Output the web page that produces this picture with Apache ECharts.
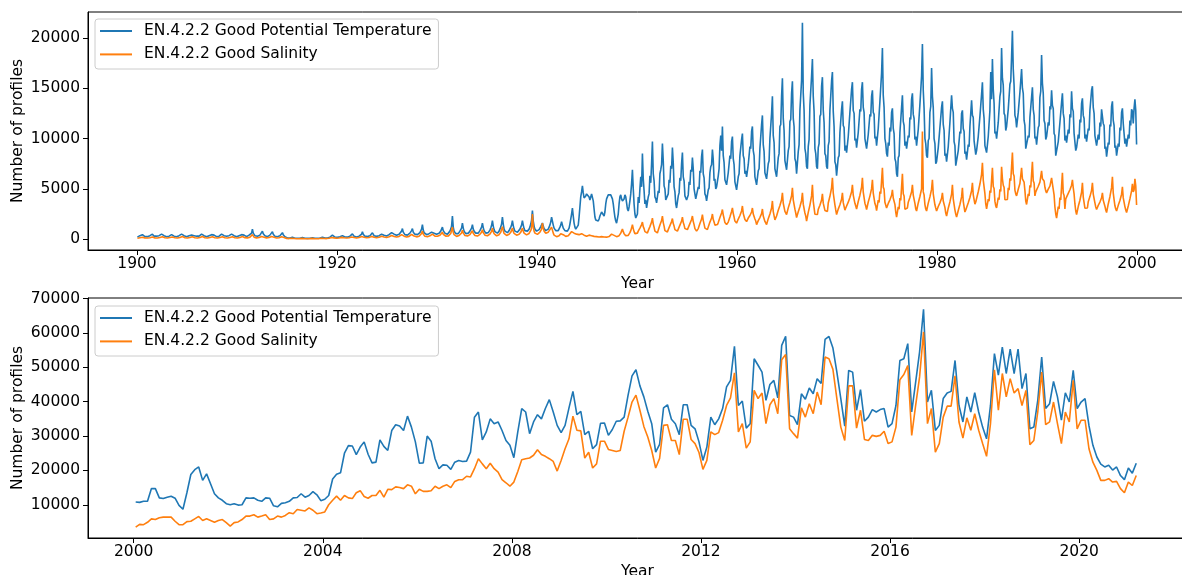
<!DOCTYPE html>
<html>
<head>
<meta charset="utf-8">
<script src="https://cdn.jsdelivr.net/npm/echarts@6/dist/echarts.min.js"></script>
<style>
html, body { margin: 0; padding: 0; overflow: hidden; background: #ffffff; }
#chart { width: 1187px; height: 575px; }
</style>
</head>
<body>
<div id="chart"></div>
<script>
// Series names
const tempName = 'EN.4.2.2 Good Potential Temperature';
const salName = 'EN.4.2.2 Good Salinity';

// Monthly profile counts, January 1900 to December 1999 (one row per year)
const centuryStartYear = 1900;
const centuryTemperature = [
  200,250,300,350,300,400,450,350,300,250,300,250,
  250,300,250,350,400,450,500,400,300,300,250,300,
  250,300,350,300,450,500,550,450,350,300,250,250,
  300,250,300,400,350,450,500,400,300,350,300,250,
  250,300,350,400,450,500,600,450,350,300,300,250,
  300,250,350,350,450,400,550,450,350,300,250,300,
  250,300,300,400,450,500,600,500,350,300,300,250,
  300,300,350,400,400,450,550,450,400,300,250,250,
  250,300,300,350,450,500,550,400,350,300,300,300,
  300,250,350,400,400,500,500,450,350,300,250,250,
  250,300,350,350,450,450,550,450,400,300,300,250,
  300,300,400,450,500,600,1000,600,450,350,300,300,
  300,300,350,400,500,550,800,550,400,350,300,250,
  250,300,350,400,450,550,750,500,400,300,300,250,
  250,300,300,350,450,500,650,450,350,250,200,150,
  120,100,100,120,150,180,200,150,120,100,100,90,
  90,80,90,100,120,150,160,130,100,90,80,80,
  80,80,90,100,120,140,150,130,110,90,80,80,
  90,90,100,120,150,180,200,160,130,110,100,100,
  120,130,150,200,250,300,400,300,250,200,180,170,
  180,200,220,250,280,300,350,300,250,220,200,200,
  200,220,250,300,350,400,530,400,300,250,220,220,
  230,250,300,350,400,500,730,500,350,300,250,250,
  260,280,300,350,400,500,630,450,350,300,280,280,
  300,320,350,400,450,500,650,500,400,350,320,320,
  380,400,450,500,550,650,800,600,500,450,400,400,
  400,450,500,550,650,800,1050,700,550,450,400,400,
  400,450,500,600,700,850,1050,700,550,500,450,420,
  450,500,550,650,800,1000,1450,900,650,550,480,450,
  450,480,550,600,650,700,800,700,600,550,500,500,
  520,550,600,700,800,900,1200,850,700,600,550,520,
  500,550,650,800,1000,1300,2300,1200,800,650,550,500,
  500,550,650,800,950,1100,1600,1100,800,650,550,550,
  550,600,700,800,950,1100,1450,1000,800,650,600,550,
  550,600,700,850,1000,1200,1600,1150,850,700,600,580,
  600,650,750,900,1100,1350,1850,1300,950,750,650,600,
  600,700,800,1000,1200,1500,2200,1500,1000,800,700,650,
  650,700,850,1000,1200,1400,1850,1350,1000,800,700,700,
  700,750,850,1000,1200,1400,1850,1400,1050,850,750,750,
  800,850,1000,1200,1500,1900,2850,1800,1300,1000,850,800,
  800,850,950,1100,1250,1400,1600,1300,1050,900,850,900,
  900,1000,1200,1400,1700,2200,1800,1400,1100,950,850,800,
  800,850,1000,1200,1400,1750,1400,1100,950,850,800,800,
  800,900,1100,1500,2000,2500,3100,2300,1600,1200,1000,1000,
  1000,1400,2200,3200,4200,4700,5300,4600,4100,4000,4300,4500,
  4600,4500,4200,3900,4200,4500,4400,3800,3000,2200,1900,1800,
  1750,1800,2000,2300,2500,2700,2800,2600,2300,2700,3500,4000,
  4200,4400,4500,4300,4400,4300,4000,3500,2800,2200,1800,1600,
  1450,2500,3500,4200,4400,4000,3800,3700,4000,4400,4200,3600,
  3000,2800,3200,3800,4500,5500,6900,5000,3500,2500,2100,2100,
  2500,4200,3600,5000,6200,5200,8500,6000,4800,3500,3900,3100,
  3100,4200,4500,6300,5600,7500,9700,6500,5800,4200,4000,3600,
  3600,4800,4600,6500,6900,7400,9500,7800,5300,5000,3900,3800,
  3800,4500,5900,5600,7300,7000,9100,7600,5200,4700,3500,3100,
  3100,4300,4600,6100,5800,7500,8600,6200,5800,4300,4400,3900,
  3900,4400,5700,5400,6900,6700,8100,7000,5000,5100,4000,4100,
  4100,5200,5000,6800,6600,8200,8900,6500,6100,4500,4300,3800,
  3800,4900,5100,6600,7200,7400,8900,7900,5800,6000,5000,5200,
  5200,6300,7000,9300,10300,8800,11200,8300,7600,5900,6000,5400,
  5400,6600,6700,8300,8000,9700,10200,8000,7400,5700,5600,4900,
  4900,6200,6500,8300,8200,9900,10500,8300,8000,6500,6800,6200,
  6200,7400,7500,9200,9000,10700,11200,8800,8300,6200,6200,5400,
  5400,6800,7000,9000,9100,11400,12300,9400,8700,6600,6700,6000,
  6000,7500,7800,10000,10100,12500,14200,10300,9600,7000,7100,6200,
  6200,8100,8500,11200,11400,14200,16000,12000,10800,7800,7800,6900,
  6900,8800,9200,11700,11900,14500,15700,12000,11200,8000,7700,6500,
  6400,8700,9400,12800,12800,15800,21500,14500,12800,9000,8500,7200,
  7000,9200,9900,13300,13300,16200,17900,14200,12700,9000,8500,7200,
  7000,9100,9500,12200,12400,15200,16100,12800,11600,8500,8300,7200,
  7000,9300,9700,12800,12800,15700,16600,12700,11200,7700,7400,6300,
  6200,8100,8300,10600,10700,12900,13700,11300,11100,8800,9300,8600,
  8500,10200,10300,12600,12500,14900,15600,12800,12500,9800,10000,9100,
  9000,10600,10500,12900,12700,14900,15600,13100,12600,10000,10000,9000,
  8900,10400,10300,12400,12200,14200,14800,12600,12400,10000,10200,9300,
  9200,11000,11000,13700,13700,16500,19000,14300,13100,10000,9500,8500,
  8200,9600,9300,11100,10700,12600,13000,11000,10500,8000,7700,6500,
  6200,8100,8300,10600,10700,13100,14300,11700,11300,9300,9700,9000,
  8900,10300,10100,12100,11900,13900,14500,12400,12000,9900,10200,9300,
  9200,10900,11000,13400,13500,16200,19400,14800,13000,10000,9500,8300,
  8100,9800,10000,12600,13200,17000,14200,13100,10000,9500,7500,7700,
  7600,9100,9000,11100,11000,13100,13700,11400,10800,8300,8500,7700,
  7600,9200,9300,11600,11700,14300,13000,12600,9700,9300,7300,7400,
  7300,8800,8700,10700,10500,12500,12800,11000,10700,8500,8700,7900,
  7900,9400,9200,11200,11100,13800,12300,12100,9800,9800,8400,8800,
  8700,10200,10100,12200,12100,14400,15600,12900,12000,9300,9400,8600,
  8500,10200,10300,12800,16600,13900,17900,14900,13500,10500,10700,10000,
  10000,11600,11700,14200,14700,19000,16000,15300,12500,12300,10800,11200,
  11200,12900,13000,15400,15700,18100,20700,16900,15300,12300,12000,11100,
  11000,12600,12500,14600,14500,16900,15000,14500,11800,11300,9000,9000,
  8900,10300,10100,12100,12000,14100,15100,12900,12300,10000,10200,9400,
  9400,11100,11300,14100,14700,18300,15500,14500,11800,11500,9900,10200,
  10100,11600,11300,13200,12900,14800,13300,13000,10500,10300,8300,8300,
  8200,9700,9600,11600,11500,13600,14500,12500,12000,9800,10300,9600,
  9500,10900,10500,12400,12100,14700,13000,12700,10500,10500,8800,9100,
  9000,10400,10000,11900,11600,13500,14000,12300,12000,10000,10400,9700,
  9600,11000,10800,12800,12700,14800,15200,13100,12500,10300,10300,9300,
  9200,10400,9900,11600,11200,12900,13000,11500,11300,9000,9200,8200,
  8100,9600,9400,11400,11200,13200,13700,11800,11300,9100,9300,8300,
  8200,9500,9200,11100,10800,12600,13000,11500,11500,9500,10000,9200,
  9100,10400,10000,11800,11300,12900,12700,11500,13000,13900,12800,9400
];
const centurySalinity = [
  100,120,130,150,150,180,200,170,150,130,120,110,
  110,120,140,150,170,190,220,180,150,130,120,110,
  110,130,140,160,180,200,240,190,160,140,120,120,
  120,130,150,160,170,200,220,180,150,140,120,110,
  110,130,150,170,190,220,260,200,160,140,120,120,
  120,130,150,160,180,210,240,200,160,140,130,120,
  120,140,150,170,200,230,270,210,170,140,130,120,
  120,130,150,170,190,210,250,200,170,140,130,120,
  120,130,150,170,190,220,250,200,160,140,130,120,
  120,130,140,160,180,210,240,190,160,140,130,120,
  120,130,150,170,190,220,260,210,170,150,130,130,
  130,150,170,200,230,280,450,280,200,160,140,130,
  130,150,170,200,230,270,380,260,200,160,140,130,
  130,140,160,190,220,260,350,250,190,160,140,120,
  120,140,150,180,210,240,300,220,170,130,100,80,
  70,60,60,70,80,90,100,80,70,60,60,50,
  50,50,50,60,70,80,90,70,60,50,50,50,
  50,50,50,60,70,80,80,70,60,50,50,50,
  50,50,60,70,80,100,110,90,70,60,60,60,
  70,80,90,110,130,160,200,160,130,110,100,100,
  100,110,120,140,160,180,200,170,140,120,110,110,
  110,120,140,160,190,220,280,220,170,140,120,120,
  130,140,160,190,220,270,380,270,200,160,140,140,
  140,150,170,200,230,280,350,260,200,170,150,150,
  160,170,190,220,250,290,360,280,220,190,170,170,
  200,210,240,270,310,370,450,340,270,230,210,210,
  220,240,270,310,370,450,600,400,300,250,220,220,
  220,250,280,330,390,470,600,420,320,270,240,230,
  250,270,300,360,440,560,800,520,370,300,260,250,
  250,270,300,330,370,410,500,420,350,300,280,280,
  290,310,340,390,450,520,700,490,390,330,300,290,
  280,310,360,450,560,720,1200,680,450,360,310,280,
  280,310,360,450,530,620,900,620,450,360,310,310,
  310,340,390,450,530,620,850,580,450,370,340,310,
  310,340,390,480,560,680,950,660,480,400,340,330,
  340,370,420,510,620,770,1100,750,540,430,370,340,
  340,400,450,570,680,850,1250,850,570,450,400,370,
  370,400,480,570,680,800,1100,780,570,450,400,400,
  400,430,480,570,680,800,1100,800,600,480,430,430,
  450,480,570,700,870,1100,2500,1300,800,600,500,480,
  480,520,600,700,850,1000,1600,1100,800,650,600,650,
  650,700,800,950,1050,1200,900,600,400,300,250,250,
  250,280,350,450,550,700,600,450,350,300,280,300,
  300,350,450,550,650,750,800,700,600,550,500,500,
  500,450,450,500,550,550,500,450,400,350,300,300,
  300,350,400,400,350,350,300,300,280,260,250,250,
  250,230,220,230,250,250,260,240,220,210,200,200,
  200,220,260,320,400,500,650,500,380,300,260,250,
  250,280,350,450,600,750,1000,750,550,420,350,320,
  320,380,500,650,850,1100,1450,1050,750,550,450,400,
  600,800,850,1100,1150,1450,1700,1250,1050,750,720,620,
  620,850,950,1250,1350,1700,2100,1500,1200,800,750,620,
  620,900,1050,1400,1500,1850,2300,1650,1300,850,770,700,
  720,950,1050,1350,1450,1750,2050,1550,1300,950,900,800,
  800,1000,1100,1400,1500,1800,2200,1650,1400,1050,1050,950,
  950,1150,1250,1550,1650,1950,2300,1750,1450,1050,950,800,
  800,1050,1200,1550,1650,2000,2450,1850,1500,1100,1050,950,
  950,1200,1350,1700,1800,2100,2500,1950,1700,1400,1500,1450,
  1450,1650,1800,2150,2250,2600,2950,2400,2050,1650,1550,1450,
  1450,1700,1850,2200,2350,2750,3100,2550,2200,1800,1700,1600,
  1600,2000,1950,2350,2300,2800,3300,2550,2450,1950,1950,1750,
  1750,2100,2000,2350,2300,2700,3100,2500,2450,2000,1800,1450,
  1450,1840,1760,2150,2070,2540,3000,2300,2230,1760,1760,1450,
  1450,2040,1920,2510,2390,3100,3800,2740,2630,1920,2100,2300,
  2300,2880,2760,3340,3220,3910,4600,3570,3450,2760,2760,2450,
  2450,3110,2980,3640,3510,4310,5100,3910,3780,2980,2600,2150,
  2100,2730,2600,3230,3100,3850,4600,3480,3350,2600,2300,1800,
  1750,2660,2480,3390,3210,4300,5400,3760,3580,2480,2550,2450,
  2450,2960,2860,3370,3270,3890,4500,3580,3480,2860,2860,2750,
  2750,3590,3420,4260,4090,5100,6100,4590,4430,3420,2900,2450,
  2450,2990,2880,3420,3310,3960,4600,3630,3530,2880,3100,3100,
  3100,3680,3560,4140,4020,4710,5400,4370,4250,3560,3300,3000,
  2950,3740,3580,4370,4210,5160,6100,4680,4530,3580,3300,2950,
  2950,3690,3540,4280,4130,5020,5900,4570,4430,3540,3300,2850,
  2800,3880,3660,4740,4520,5810,7100,5170,4950,3660,3500,3100,
  3100,3550,3460,3910,3820,4360,4900,4090,4000,3460,2700,2200,
  2100,3200,2980,4080,3860,5180,6500,4520,4300,2980,3100,3100,
  3100,3680,3560,4140,4020,4710,5400,4370,4250,3560,3000,2800,
  2800,3600,3440,4240,4080,5000,10700,4700,4400,3440,3000,2800,
  2800,3580,3420,4200,4040,4970,5900,4510,4350,3420,3100,2800,
  2800,3250,3160,3610,3520,4060,4600,3790,3700,3160,2600,2300,
  2300,3080,2920,3700,3540,4470,5400,4010,3850,2920,2500,2200,
  2100,2850,2700,3450,3300,4200,5100,3750,3600,2700,2900,2950,
  2950,3610,3480,4140,4010,4810,5600,4410,4280,3480,3700,3700,
  3750,4710,4520,5480,5290,6450,7600,5870,5680,4520,3500,3000,
  2950,3990,3780,4820,4620,5860,7100,5230,5030,3780,3300,3100,
  3100,4130,3920,4950,4740,7200,6000,5360,5150,3920,3900,3900,
  3950,5110,4880,6040,5810,7200,8600,6510,6280,4880,4500,4300,
  4250,4960,4820,5530,5390,7100,6000,5820,5680,4820,3800,3450,
  3450,4510,4300,5360,5150,6430,7700,5790,5580,4300,4700,4750,
  4750,5260,5160,5670,5570,6800,6000,5880,5780,5160,4800,4600,
  4600,4980,4900,5280,5200,6100,5500,5430,4400,3200,2500,2100,
  2100,3230,3000,4130,3900,5250,6600,4580,4350,3000,4000,4100,
  4100,4550,4460,4910,4820,5360,5900,5090,4500,3500,2800,2450,
  2450,3240,3080,3870,3710,4660,5600,4180,4030,3080,3200,3100,
  3100,3730,3600,4230,4100,4850,5600,4480,4350,3600,3200,2950,
  2950,3360,3280,3690,3610,4110,4600,3860,3780,3280,2900,2650,
  2600,3500,3320,4220,4040,5120,6200,4580,4400,3320,3000,2800,
  2750,3360,3240,3850,3730,4470,5200,4100,3980,3240,2900,2650,
  2600,3300,3200,4000,3900,4800,5500,4700,4900,6000,5300,3400
];

// Monthly profile counts, January 2000 to March 2021
const recentStartYear = 2000;
const recentTemperature = [
  10800,10700,11000,11000,14700,14700,12000,11800,12200,12500,11900,9800,
  8700,13500,18800,20200,21000,17100,19000,16100,13200,12000,11300,10300,
  10000,10300,9900,10000,12000,11900,12000,11300,11000,12000,11900,9700,
  9400,10400,10600,11000,12000,12100,13200,12200,12700,13800,12900,11200,
  11600,12700,17500,18900,19300,25000,27200,27100,24600,26800,28300,24700,
  22200,22400,28900,27000,25800,31600,33300,32900,31600,35800,32600,28300,
  22100,22200,30000,28500,23400,20500,21600,21500,20300,22400,22900,22600,
  22700,25300,35500,37000,28900,31200,35000,33600,34100,31600,28700,27300,
  23700,31200,38000,37000,30700,34100,36200,35000,38000,40600,37000,33100,
  31000,33100,38200,43000,36200,37200,30400,31400,26300,27500,33700,33800,
  30200,31900,34300,34400,35500,41900,47500,49300,44600,41400,37200,33600,
  25300,27600,38200,39100,34900,33600,30400,39100,39100,33100,32100,28300,
  22900,26800,35500,33300,35000,38000,44300,46200,56100,38900,40200,32300,
  33600,52500,50600,48600,40400,45000,46200,41100,56400,59000,36000,35500,
  33300,42300,40700,44000,42300,46700,45300,58100,59000,55600,48600,40900,
  32900,49100,48600,37500,43500,34300,35500,37700,37000,37700,38000,32600,
  33600,38900,52000,52500,56900,37000,45700,54500,66900,39900,43300,31600,
  33100,40900,42500,43000,52000,38900,34100,41400,37000,42600,37000,32600,
  29200,38900,54000,47700,55900,48200,55300,48200,55300,43800,48200,32100,
  32600,40400,53000,38000,39400,45900,41400,34600,42600,39900,49100,38000,
  39900,40900,33000,27300,23900,21800,21000,21500,20100,21000,18500,17300,
  20700,19200,22100
];
const recentSalinity = [
  3500,4300,4200,4900,5900,5700,6200,6400,6400,6400,5200,4200,
  4200,5100,5200,5900,6600,5400,5900,5400,4900,5400,5700,4800,
  3800,4800,5000,5700,6700,6700,7100,6400,6700,7100,5700,5900,
  6700,6400,6900,7700,7400,8600,8400,8200,9100,8400,7400,7600,
  7900,10000,11300,12500,11300,12700,12000,11800,13500,14100,12400,11900,
  12700,12700,14200,12200,14500,14400,15200,15000,14700,15800,15400,13200,
  14500,13900,13900,14100,15400,14700,15400,15800,15000,16800,17300,17300,
  18300,18100,20500,23400,21900,20500,22100,20500,19500,17300,16400,15400,
  16600,19700,23100,23400,23600,24400,26000,24600,24100,23400,22600,19800,
  22900,26300,29200,35800,31700,31500,23600,25300,20700,21900,28500,28500,
  26100,25800,25500,25800,31400,35500,39900,41900,37500,32800,29700,25800,
  20700,23500,33100,33300,28700,28700,24600,34900,34900,29000,27800,25200,
  20300,22900,31200,30400,31000,34600,38900,41100,48400,31200,33600,26500,
  28300,43300,40900,42500,33600,39100,40900,36500,52200,53700,32100,30700,
  29400,38200,35500,39400,36500,42800,39100,53000,52500,49400,40900,32600,
  28700,44600,44600,32300,37500,29000,28700,30200,29900,30200,31400,27800,
  28300,32600,46400,47900,50500,30200,38900,47200,60300,33600,38000,25300,
  27800,35500,38700,38700,47500,34100,29400,35300,31700,36500,31700,27800,
  24100,33600,49300,37500,48200,41400,46700,42500,43800,38900,43300,27500,
  28700,37000,48600,33300,34100,39900,33600,27800,37000,34100,46200,32100,
  34600,34600,26300,22400,20000,17100,17100,17600,16600,16800,14700,13500,
  16600,15600,18500
];

// Axis tick values
const centuryYearTicks = [1900, 1920, 1940, 1960, 1980, 2000];
const centuryCountTicks = [0, 5000, 10000, 15000, 20000];
const recentYearTicks = [2000, 2004, 2008, 2012, 2016, 2020];
const recentCountTicks = [10000, 20000, 30000, 40000, 50000, 60000, 70000];

// Pair each monthly value with the decimal year at the middle of its month
function monthly(startYear, values) {
  return values.map(function (v, i) { return [startYear + (i + 0.5) / 12, v]; });
}

const FONT = 'DejaVu Sans';
const FONT_SIZE = 15.5;
const BLUE = '#1f77b4';
const ORANGE = '#ff7f0e';
const textStyle = { fontFamily: FONT, fontSize: FONT_SIZE, color: '#000000' };

function xAxisFor(gridIndex, min, max, ticks) {
  return {
    type: 'value', gridIndex: gridIndex, min: min, max: max,
    axisLine: { show: true, onZero: false, lineStyle: { color: '#000000', width: 1 } },
    axisTick: { show: true, length: 5, inside: false, customValues: ticks, lineStyle: { color: '#000000', width: 1 } },
    axisLabel: Object.assign({ customValues: ticks, margin: 6, formatter: function (v) { return String(v); } }, textStyle),
    splitLine: { show: false },
    name: 'Year', nameLocation: 'middle', nameGap: 25.5, nameMoveOverlap: false,
    nameTextStyle: textStyle
  };
}

function yAxisFor(gridIndex, min, max, ticks) {
  return {
    type: 'value', gridIndex: gridIndex, min: min, max: max,
    axisLine: { show: true, onZero: false, lineStyle: { color: '#000000', width: 1 } },
    axisTick: { show: true, length: 5, inside: false, customValues: ticks, lineStyle: { color: '#000000', width: 1 } },
    axisLabel: Object.assign({ customValues: ticks, margin: 8, formatter: function (v) { return String(v); } }, textStyle),
    splitLine: { show: false },
    name: 'Number of profiles', nameLocation: 'middle', nameGap: 62, nameMoveOverlap: false,
    nameTextStyle: textStyle
  };
}

function legendAt(top) {
  return {
    orient: 'vertical', left: 95, top: top,
    icon: 'rect', itemWidth: 32, itemHeight: 2, itemGap: 5.4,
    padding: [3, 7, 5.6, 5],
    borderColor: '#cccccc', borderWidth: 1, borderRadius: 3,
    backgroundColor: 'rgba(255,255,255,0.8)',
    textStyle: { fontFamily: FONT, fontSize: FONT_SIZE, color: '#000000', lineHeight: 18, padding: [0, 0, 0, 7] },
    data: [tempName, salName]
  };
}

function lineSeries(name, color, axisIndex, data, z) {
  return {
    type: 'line', name: name, xAxisIndex: axisIndex, yAxisIndex: axisIndex,
    data: data, showSymbol: false, symbol: 'none', clip: true, z: z,
    lineStyle: { color: color, width: 1.6 }, itemStyle: { color: color },
    emphasis: { disabled: true }
  };
}

function gridAt(top, height) {
  return {
    left: 88, top: top, width: 1099, height: height,
    containLabel: false, outerBoundsMode: 'none',
    show: true, borderColor: '#000000', borderWidth: 1, backgroundColor: 'transparent'
  };
}

const chart = echarts.init(document.getElementById('chart'), null, { renderer: 'canvas' });
chart.setOption({
  animation: false,
  backgroundColor: '#ffffff',
  grid: [gridAt(12, 238), gridAt(298, 240)],
  xAxis: [
    xAxisFor(0, 1895.1, 2005.0, centuryYearTicks),
    xAxisFor(1, 1999.033, 2022.282, recentYearTicks)
  ],
  yAxis: [
    yAxisFor(0, -1075, 22575, centuryCountTicks),
    yAxisFor(1, 325, 70175, recentCountTicks)
  ],
  legend: [legendAt(19), legendAt(306)],
  series: [
    lineSeries(tempName, BLUE, 0, monthly(centuryStartYear, centuryTemperature), 2),
    lineSeries(salName, ORANGE, 0, monthly(centuryStartYear, centurySalinity), 3),
    lineSeries(tempName, BLUE, 1, monthly(recentStartYear, recentTemperature), 2),
    lineSeries(salName, ORANGE, 1, monthly(recentStartYear, recentSalinity), 3)
  ]
});
</script>
</body>
</html>
